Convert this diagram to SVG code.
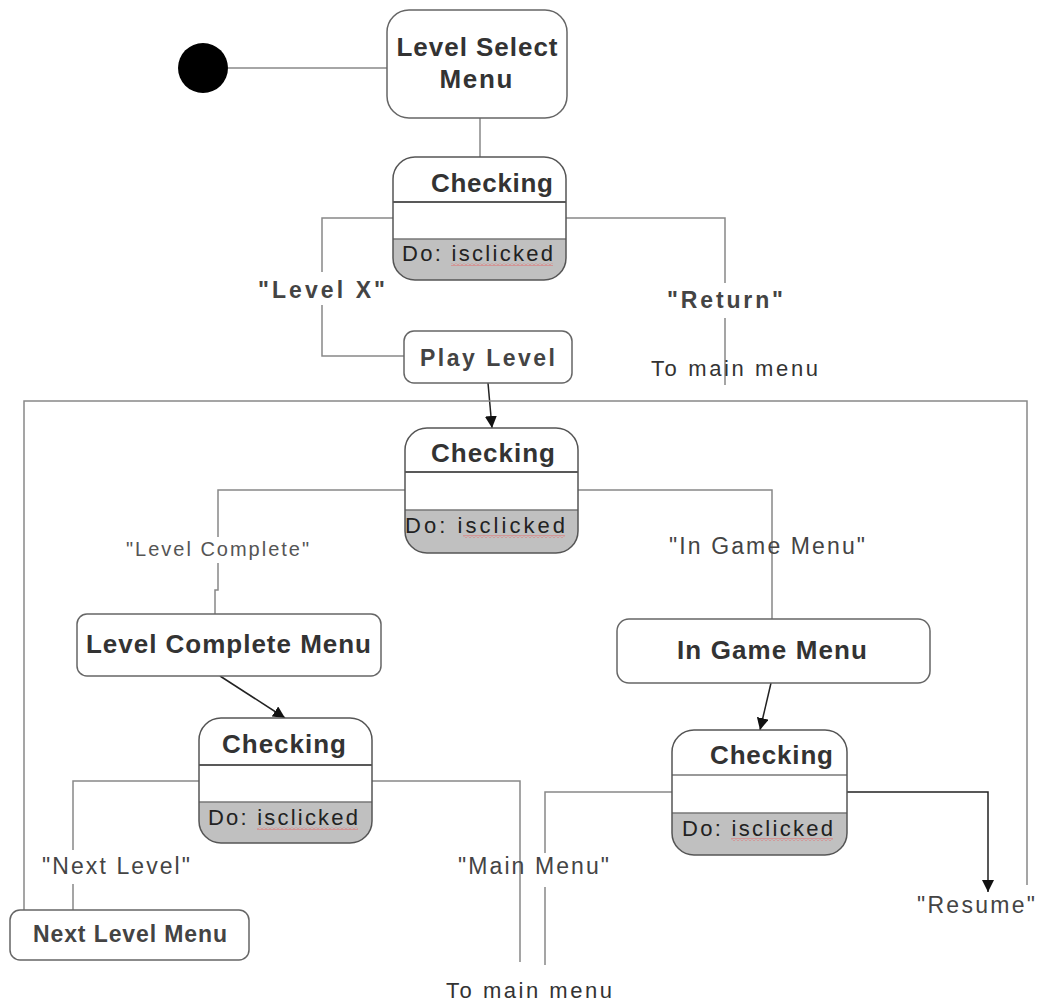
<svg xmlns="http://www.w3.org/2000/svg" width="1037" height="1002" viewBox="0 0 1037 1002">
<style>
.st{fill:#fff;stroke:#666;stroke-width:1.5}
.ol{fill:none;stroke:#555;stroke-width:1.5}
.gr{fill:#c0c0c0}
.hl{stroke:#222;stroke-width:1.5}
.sl{stroke:#777;stroke-width:1.5}
.t{font-family:"Liberation Sans",Arial,sans-serif;fill:#333}
.b{font-weight:bold}
.title{font-size:26px}
.do{font-size:22px;fill:#222}
.lbl{font-size:23px;fill:#444}
.tm{font-size:22px;fill:#333}
.sm{font-size:20px;fill:#555}
.c{fill:none;stroke:#888;stroke-width:1.5}
.ca{fill:none;stroke:#222;stroke-width:1.5}
.sq{fill:url(#squig)}
</style>
<defs>
<marker id="arr" viewBox="0 0 12 12" refX="12" refY="6" markerWidth="12" markerHeight="12" markerUnits="userSpaceOnUse" orient="auto">
<path d="M0,0 L12,6 L0,12 Z" fill="#111"/>
</marker>
<pattern id="squig" width="4" height="3" patternUnits="userSpaceOnUse">
<path d="M0,2.5 L2,0.5 L4,2.5" fill="none" stroke="#e55" stroke-width="0.8"/>
</pattern>
</defs>

<g id="connectors">
<line class="c" x1="228" y1="68" x2="387" y2="68"/>
<line class="c" x1="480" y1="118" x2="480" y2="157"/>
<path class="c" d="M393,218 H322 V272 M322,305 V356 H404"/>
<path class="c" d="M566,218 H725 V283 M725,318 V385"/>
<line class="ca" x1="488" y1="383" x2="492" y2="428" marker-end="url(#arr)"/>
<path class="c" d="M24,910 V401 H1027 V885"/>
<path class="c" d="M405,490 H218 V537 M218,563 V590 H215 V614"/>
<path class="c" d="M578,490 H772 V620"/>
<line class="ca" x1="220" y1="676" x2="285" y2="718" marker-end="url(#arr)"/>
<line class="ca" x1="771" y1="683" x2="760" y2="730" marker-end="url(#arr)"/>
<path class="c" d="M199,781 H73 V850 M73,884 V910"/>
<path class="c" d="M372,781 H520 V962"/>
<path class="c" d="M672,792 H545 V853 M545,887 V965"/>
<path class="ca" d="M847,792 H988 V892" marker-end="url(#arr)"/>
</g>

<g id="initial">
<circle cx="203" cy="68" r="25" fill="#000"/>
</g>

<g id="level-select-menu">
<rect class="st" x="387" y="10" width="180" height="108" rx="22"/>
<text class="t title b" x="477" y="56" text-anchor="middle" textLength="161" lengthAdjust="spacing">Level Select</text>
<text class="t title b" x="476" y="88" text-anchor="middle" textLength="73" lengthAdjust="spacing">Menu</text>
</g>

<g id="checking-1">
<rect x="393" y="157" width="173" height="123" rx="22" fill="#fff"/>
<path class="gr" d="M393,239 H566 V258 A22,22 0 0 1 544,280 H415 A22,22 0 0 1 393,258 Z"/>
<line class="hl" x1="393" y1="202" x2="566" y2="202"/>
<line class="sl" x1="393" y1="239" x2="566" y2="239"/>
<rect class="ol" x="393" y="157" width="173" height="123" rx="22"/>
<text class="t title b" x="553" y="192" text-anchor="end" textLength="122" lengthAdjust="spacing" fill="#111">Checking</text>
<text class="t do" x="402" y="261" textLength="151" lengthAdjust="spacing">Do: isclicked</text>
<rect class="sq" x="451" y="263" width="102" height="3"/>
</g>

<g id="label-level-x">
<text class="t lbl b" x="258" y="298" textLength="127" lengthAdjust="spacing">"Level X"</text>
</g>
<g id="label-return">
<text class="t lbl b" x="667" y="308" textLength="116" lengthAdjust="spacing">"Return"</text>
<text class="t tm" x="651" y="376" textLength="167" lengthAdjust="spacing">To main menu</text>
</g>

<g id="play-level">
<rect class="st" x="404" y="331" width="168" height="52" rx="10"/>
<text class="t lbl b" x="487.5" y="366" text-anchor="middle" textLength="135" lengthAdjust="spacing" fill="#333">Play Level</text>
</g>

<g id="checking-2">
<rect x="405" y="428" width="173" height="125" rx="22" fill="#fff"/>
<path class="gr" d="M405,510 H578 V531 A22,22 0 0 1 556,553 H427 A22,22 0 0 1 405,531 Z"/>
<line class="hl" x1="405" y1="472" x2="578" y2="472"/>
<line class="sl" x1="405" y1="510" x2="578" y2="510"/>
<rect class="ol" x="405" y="428" width="173" height="125" rx="22"/>
<text class="t title b" x="493" y="462" text-anchor="middle" textLength="124" lengthAdjust="spacing" fill="#111">Checking</text>
<text class="t do" x="405" y="533" textLength="160" lengthAdjust="spacing">Do: isclicked</text>
<rect class="sq" x="463" y="535" width="102" height="3"/>
</g>

<g id="label-level-complete">
<text class="t sm" x="126" y="556" textLength="183" lengthAdjust="spacing">"Level Complete"</text>
</g>
<g id="label-in-game-menu">
<text class="t lbl" x="669" y="554" textLength="196" lengthAdjust="spacing">"In Game Menu"</text>
</g>

<g id="level-complete-menu">
<rect class="st" x="77" y="614" width="304" height="62" rx="10"/>
<text class="t title b" x="228.5" y="653" text-anchor="middle" textLength="285" lengthAdjust="spacing">Level Complete Menu</text>
</g>

<g id="in-game-menu">
<rect class="st" x="617" y="619" width="313" height="64" rx="12"/>
<text class="t title b" x="772" y="659" text-anchor="middle" textLength="190" lengthAdjust="spacing">In Game Menu</text>
</g>

<g id="checking-3">
<rect x="199" y="718" width="173" height="125" rx="22" fill="#fff"/>
<path class="gr" d="M199,802 H372 V821 A22,22 0 0 1 350,843 H221 A22,22 0 0 1 199,821 Z"/>
<line class="hl" x1="199" y1="765" x2="372" y2="765"/>
<line class="sl" x1="199" y1="802" x2="372" y2="802"/>
<rect class="ol" x="199" y="718" width="173" height="125" rx="22"/>
<text class="t title b" x="284" y="753" text-anchor="middle" textLength="124" lengthAdjust="spacing" fill="#111">Checking</text>
<text class="t do" x="208" y="825" textLength="150" lengthAdjust="spacing">Do: isclicked</text>
<rect class="sq" x="257" y="827" width="101" height="3"/>
</g>

<g id="checking-4">
<rect x="672" y="730" width="175" height="125" rx="22" fill="#fff"/>
<path class="gr" d="M672,813 H847 V833 A22,22 0 0 1 825,855 H694 A22,22 0 0 1 672,833 Z"/>
<line class="sl" x1="672" y1="775" x2="847" y2="775"/>
<line class="sl" x1="672" y1="813" x2="847" y2="813"/>
<rect class="ol" x="672" y="730" width="175" height="125" rx="22"/>
<text class="t title b" x="833" y="764" text-anchor="end" textLength="123" lengthAdjust="spacing" fill="#111">Checking</text>
<text class="t do" x="682" y="836" textLength="151" lengthAdjust="spacing">Do: isclicked</text>
<rect class="sq" x="731" y="838" width="102" height="3"/>
</g>

<g id="label-next-level">
<text class="t lbl" x="42" y="874" textLength="148" lengthAdjust="spacing">"Next Level"</text>
</g>
<g id="label-main-menu">
<text class="t lbl" x="458" y="874" textLength="151" lengthAdjust="spacing">"Main Menu"</text>
<text class="t tm" x="446" y="998" textLength="166" lengthAdjust="spacing">To main menu</text>
</g>
<g id="label-resume">
<text class="t lbl" x="917" y="913" textLength="118" lengthAdjust="spacing">"Resume"</text>
</g>

<g id="next-level-menu">
<rect class="st" x="10" y="910" width="239" height="50" rx="10"/>
<text class="t lbl b" x="130" y="942" text-anchor="middle" textLength="194" lengthAdjust="spacing">Next Level Menu</text>
</g>
</svg>
